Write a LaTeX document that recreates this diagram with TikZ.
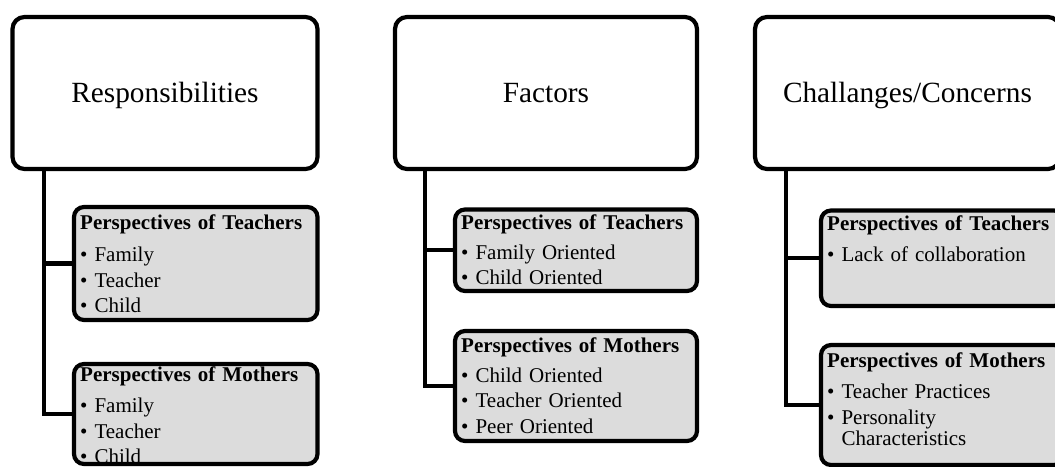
\documentclass[tikz,border=0pt]{standalone}
\usepackage{fontspec}
\setmainfont{Liberation Serif}
\definecolor{boxgray}{HTML}{DCDCDC}
\tikzset{
  topbox/.style={draw, line width=4.2pt, rounded corners=12pt, fill=white, inner sep=0pt,
    font=\fontsize{29.3}{34}\selectfont, text height=21pt, text depth=3pt},
  childbox/.style={draw, line width=4.2pt, rounded corners=10pt, fill=boxgray, inner sep=0pt},
  conn/.style={line width=4.2pt},
  itemtext/.style={anchor=base west, inner sep=0pt, text width=240pt, align=left,
    font=\fontsize{21}{25.5}\selectfont},
}
\begin{document}
\begin{tikzpicture}[x=1pt,y=-1pt]
\clip (0,0) rectangle (1055,466);
\fill[white] (0,0) rectangle (1055,466);
% top boxes
\node[topbox, minimum width=305pt, minimum height=152pt] (r) at (165,93) {Responsibilities};
\node[topbox, minimum width=302pt, minimum height=152pt] (f) at (546,93) {Factors};
\node[topbox, minimum width=305pt, minimum height=152pt] (c) at (907.5,93) {Challanges/Concerns};
% connector columns
\coordinate (v1) at (44,0);
\coordinate (v2) at (425,0);
\coordinate (v3) at (786,0);
% child boxes (positions)
\path (195.75,263.5) coordinate (p11) (195.75,414) coordinate (p12)
      (576,250.25) coordinate (p21) (576,386) coordinate (p22)
      (942.5,258.25) coordinate (p31) (942.5,405) coordinate (p32);
\draw[conn] (r.south -| v1) |- (p11 -| 74,0);
\draw[conn] (r.south -| v1) |- (p12 -| 74,0);
\draw[conn] (f.south -| v2) |- (p21 -| 455,0);
\draw[conn] (f.south -| v2) |- (p22 -| 455,0);
\draw[conn] (c.south -| v3) |- (p31 -| 821,0);
\draw[conn] (c.south -| v3) |- (p32 -| 821,0);
\node[childbox, minimum width=243.5pt, minimum height=113pt] (c11) at (p11) {};
\node[childbox, minimum width=243.5pt, minimum height=100pt] (c12) at (p12) {};
\node[childbox, minimum width=242pt, minimum height=81.5pt] (c21) at (p21) {};
\node[childbox, minimum width=242pt, minimum height=110pt] (c22) at (p22) {};
\node[childbox, minimum width=243pt, minimum height=95.5pt] (c31) at (p31) {};
\node[childbox, minimum width=243pt, minimum height=120pt] (c32) at (p32) {};
% texts
\node[itemtext] (t11) at (80,229) {\textbf{Perspectives of Teachers}\\[7pt]• Family\\• Teacher\\• Child};
\node[itemtext] (t12) at (80,381) {\textbf{Perspectives of Mothers}\\[6pt]• Family\\• Teacher\\• Child};
\node[itemtext] (t21) at (461,229) {\textbf{Perspectives of Teachers}\\[4.5pt]• Family Oriented\\• Child Oriented};
\node[itemtext] (t22) at (461,352) {\textbf{Perspectives of Mothers}\\[4.5pt]• Child Oriented\\• Teacher Oriented\\• Peer Oriented};
\node[itemtext] (t31) at (827,230) {\textbf{Perspectives of Teachers}\\[6pt]• Lack of collaboration};
\node[itemtext] (t32) at (827,367) {\textbf{Perspectives of Mothers}\\[5.5pt]• Teacher Practices\\[1pt]• Personality\\[-4.5pt]\phantom{• }Characteristics};
\end{tikzpicture}
\end{document}
